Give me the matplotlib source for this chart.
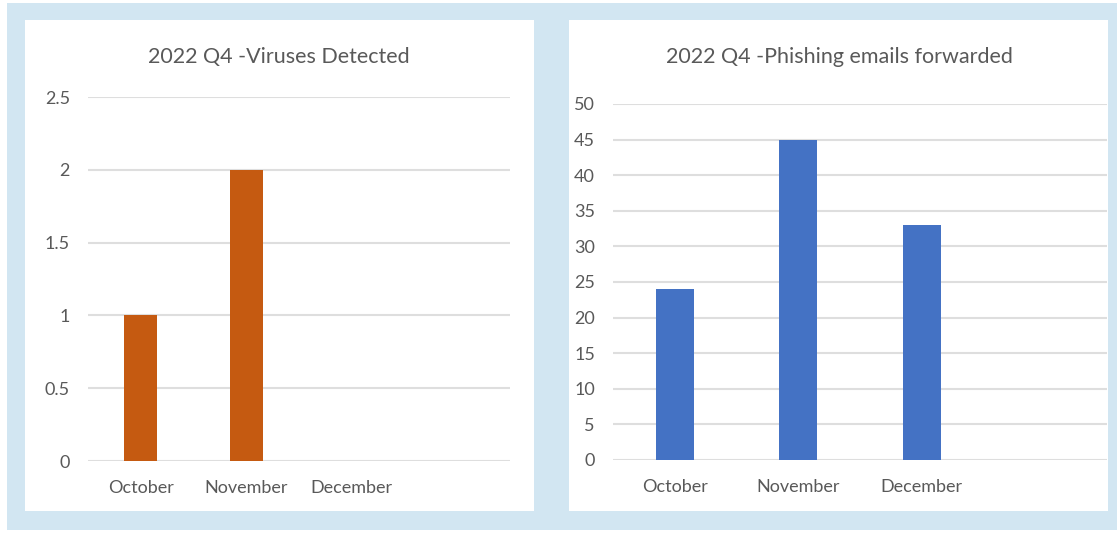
import matplotlib
matplotlib.use("Agg")
import matplotlib.pyplot as plt
from matplotlib.patches import Rectangle

plt.rcParams['font.family'] = ['Lato', 'DejaVu Sans']

months = ['October', 'November', 'December', '']
viruses = [1, 2, 0]
phishing = [24, 45, 33]

W, H = 1117, 537
fig = plt.figure(figsize=(W / 100, H / 100), dpi=100)
fig.patch.set_facecolor('white')


def px_rect(x0, y0, x1, y1, color):
    # rectangle given in pixel coords (top-left origin)
    fig.patches.append(Rectangle((x0 / W, 1 - y1 / H), (x1 - x0) / W, (y1 - y0) / H,
                                 transform=fig.transFigure, facecolor=color,
                                 edgecolor='none', zorder=-10))


px_rect(7, 3, 1117, 530, '#d2e6f2')
px_rect(25, 20, 534, 511, 'white')
px_rect(569, 20, 1108, 511, 'white')


def panel(rect, values, color, ymax, step, title, title_x):
    ax = fig.add_axes(rect)
    ax.set_facecolor('none')
    x = range(len(values))
    ax.bar(x, values, width=0.31, color=color, zorder=3)
    ax.set_xlim(-0.5, len(months) - 0.5)
    ax.set_ylim(0, ymax)
    ticks = [i * step for i in range(int(round(ymax / step)) + 1)]
    ax.set_yticks(ticks)
    ax.set_yticklabels(['{:g}'.format(t) for t in ticks])
    ax.set_xticks(range(len(months)))
    ax.set_xticklabels(months)
    ax.grid(axis='y', color='#dedede', linewidth=1.5, zorder=0)
    ax.set_axisbelow(True)
    for s in ax.spines.values():
        s.set_visible(False)
    ax.tick_params(axis='both', length=0, labelcolor='#595959', labelsize=13)
    ax.tick_params(axis='x', pad=14)
    ax.tick_params(axis='y', pad=13)
    fig.text(title_x, 1 - 57 / H, title, ha='center', va='center',
             fontsize=15.5, color='#595959')
    return ax


panel([88 / W, 76 / H, 422 / W, 364 / H], viruses, '#c55a11', 2.5, 0.5,
      '2022 Q4 -Viruses Detected', 279 / W)
panel([613 / W, 77 / H, 494 / W, 356 / H], phishing, '#4472c4', 50, 5,
      '2022 Q4 -Phishing emails forwarded', 839 / W)

fig.savefig('out.png', dpi=100, facecolor=fig.get_facecolor())
